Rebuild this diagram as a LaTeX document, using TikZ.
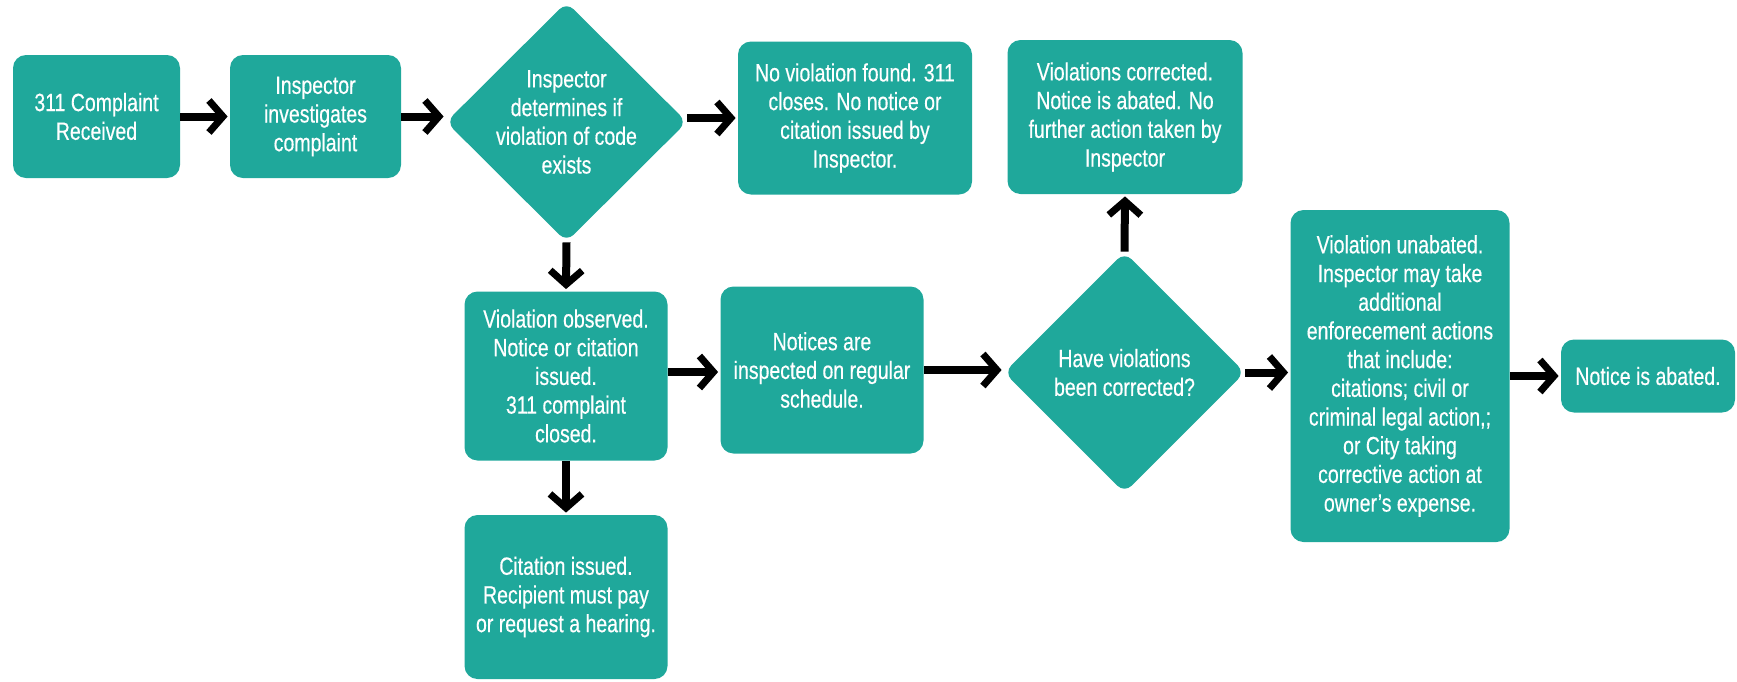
\documentclass[tikz,border=0pt]{standalone}
\usepackage{fontspec}
\setmainfont{Liberation Sans}[FakeStretch=0.78,FakeBold=0.4]
\usetikzlibrary{arrows.meta,shapes.geometric}
\definecolor{flowteal}{RGB}{31,168,155}
\begin{document}
\begin{tikzpicture}[x=0.5pt,y=-0.5pt,
  txt/.style={text=white, align=center, font=\fontsize{12.5}{14.35}\selectfont},
  box/.style={txt, fill=flowteal, rounded corners=6.5pt, inner sep=0pt},
  dia/.style={diamond, fill=flowteal, rounded corners=5pt, inner sep=0pt},
  arr/.style={line width=4pt, -{Straight Barb[length=7pt,width=16pt,line width=3.5pt]}, shorten >=1pt}
]
\useasboundingbox (0,0) rectangle (1737,681);

% first row
\node[box, minimum width=83.5pt, minimum height=61.5pt] (b1) at (96.5,116.5) {311 Complaint\\Received};
\node[box, minimum width=85.5pt, minimum height=61.5pt] (b2) at (315.5,116.5) {Inspector\\investigates\\complaint};
\node[dia, minimum width=120.5pt, minimum height=120pt,
  label={[txt]center:Inspector\\determines if\\violation of code\\exists}] (d1) at (566.5,122) {};
\node[box, minimum width=117pt, minimum height=76.5pt] (nv) at (855,118)
  {No violation found. 311\\closes. No notice or\\citation issued by\\Inspector.};
\node[box, minimum width=117.5pt, minimum height=77pt] (vc) at (1125,117)
  {Violations corrected.\\Notice is abated. No\\further action taken by\\Inspector};

% second row
\node[box, minimum width=101.5pt, minimum height=84.5pt] (vo) at (566,376)
  {Violation observed.\\Notice or citation\\issued.\\311 complaint\\closed.};
\node[box, minimum width=101.5pt, minimum height=83.5pt] (ni) at (822,370)
  {Notices are\\inspected on regular\\schedule.};
\node[dia, minimum width=120.5pt, minimum height=120.5pt,
  label={[txt]center:Have violations\\been corrected?}] (d2) at (1124.5,372.5) {};
\node[box, minimum width=109.5pt, minimum height=166pt] (vu) at (1400,376)
  {Violation unabated.\\Inspector may take\\additional\\enforecement actions\\that include:\\citations; civil or\\criminal legal action,;\\or City taking\\corrective action at\\owner's expense.};
\node[box, minimum width=87pt, minimum height=36.5pt] (na) at (1648,376) {Notice is abated.};

% third row
\node[box, minimum width=101.5pt, minimum height=82pt] (ci) at (566,597)
  {Citation issued.\\Recipient must pay\\or request a hearing.};

% connectors
\draw[arr] (b1.east) -- (b2.west);
\draw[arr] (b2.east) -- (b2.east -| d1.west);
\draw[arr] ([yshift=2pt]d1.east) -- ([yshift=2pt]d1.east -| nv.west);
\draw[arr] (d1.south) -- (vo.north);
\draw[arr] (vo.south) -- (ci.north);
\draw[arr] ([yshift=2pt]vo.east) -- ([yshift=2pt]vo.east -| ni.west);
\draw[arr] (ni.east) -- (ni.east -| d2.west);
\draw[arr] (d2.north) -- (vc.south);
\draw[arr] (d2.east) -- (d2.east -| vu.west);
\draw[arr] (vu.east) -- (na.west);
\end{tikzpicture}
\end{document}
